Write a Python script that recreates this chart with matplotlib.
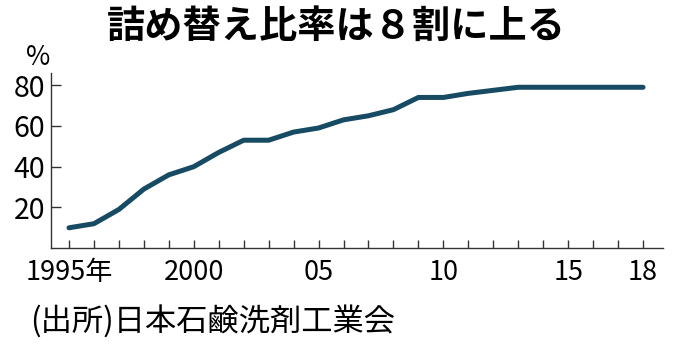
import matplotlib
matplotlib.use('Agg')
import matplotlib.pyplot as plt

# 詰め替え比率 (%)
years = list(range(1995, 2019))
ratio = [10, 12, 19, 29, 36, 40, 47, 53, 53, 57, 59, 63, 65, 68, 74, 74, 76, 77.5, 79,
         79, 79, 79, 79, 79]
tick_pos = [1995, 2000, 2005, 2010, 2015, 2018]
tick_lab = ['1995年', '2000', '05', '10', '15', '18']
y_ticks = [20, 40, 60, 80]

title = '詰め替え比率は８割に上る'
source = '(出所)日本石鹸洗剤工業会'

plt.rcParams['font.family'] = ['Noto Sans CJK JP', 'DejaVu Sans']

fig = plt.figure(figsize=(6.8, 3.51), dpi=100)
ax = fig.add_axes([0.075, 0.293, 0.9, 0.499])

ax.plot(years, ratio, color='#174a63', lw=3.6, solid_capstyle='round', solid_joinstyle='round')

ax.set_xlim(1994.28, 2018.8)
ax.set_ylim(0, 86)

# every year gets a tick, labels only on a few
ax.set_xticks(years, minor=True)
ax.set_xticks(tick_pos)
ax.set_xticklabels(tick_lab, fontsize=19.5)
ax.set_yticks(y_ticks)
ax.set_yticklabels([str(v) for v in y_ticks], fontsize=20.5)

ax.tick_params(axis='x', which='both', direction='in', length=6, width=1, color='#333333', pad=8)
ax.tick_params(axis='y', direction='in', length=7, width=1, color='#333333', pad=4)

for s in ['top', 'right']:
    ax.spines[s].set_visible(False)
for s in ['left', 'bottom']:
    ax.spines[s].set_color('#333333')
    ax.spines[s].set_linewidth(1)

fig.text(0.494, 0.925, title, ha='center', va='center', fontsize=27.5, fontweight='bold')
fig.text(0.056, 0.835, '%', ha='center', va='center', fontsize=19)
fig.text(0.044, 0.083, source, ha='left', va='center', fontsize=22.5)

fig.savefig('out.png', dpi=100)
